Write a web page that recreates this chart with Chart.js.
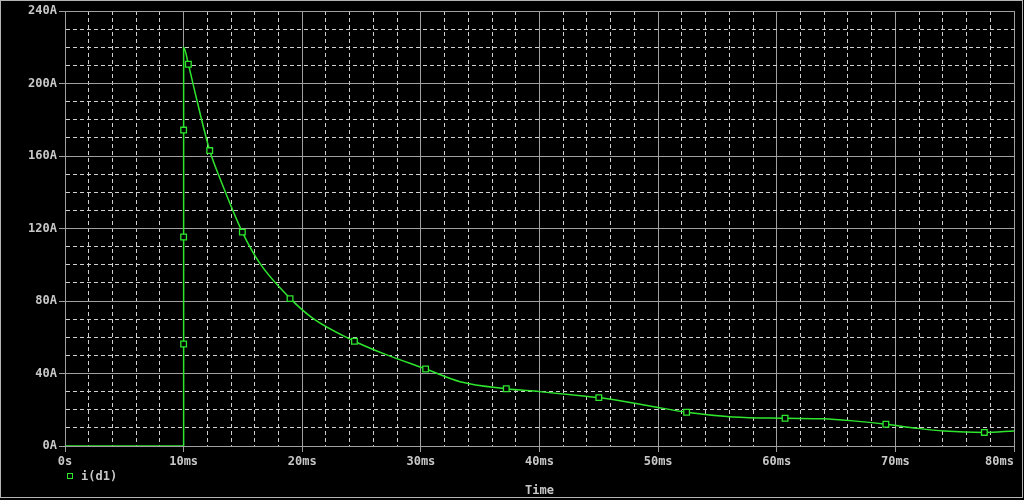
<!DOCTYPE html>
<html>
<head>
<meta charset="UTF-8">
<title>i(d1) transient</title>
<script src="https://cdn.jsdelivr.net/npm/chart.js"></script>
<style>
  html, body { margin: 0; padding: 0; background: #000; }
  #wrap { position: relative; width: 1024px; height: 500px; overflow: hidden; }
  #frame { position: absolute; left: 0; top: 0; width: 1021px; height: 496px; border: 1px solid #b4b4b4; pointer-events: none; }
  #legend { position: absolute; left: 67px; top: 469px; font: bold 12px "DejaVu Sans Mono", monospace; color: #c8c8c8; }
  #legend .box { display: inline-block; width: 4px; height: 4px; border: 1px solid #2ee62e; margin-right: 8px; vertical-align: 1px; }
</style>
</head>
<body>
<div id="wrap">
  <canvas id="plot" width="1024" height="500"></canvas>
  <div id="legend"><span class="box"></span><span id="legendText"></span></div>
  <div id="frame"></div>
</div>

<script>
    // trace i(d1), time in ms, current in A
    const seriesName = 'i(d1)';
    const timeMs  = [0, 10, 10, 10.4, 11, 12.2, 13.1, 14.95, 16.4, 19.0, 20.9, 24.4, 26.8, 30.4, 33.3, 37.2, 40.0, 43.7, 45.0, 49.3, 52.4, 56.3, 60.7, 63.9, 66.2, 69.2, 71.8, 74.1, 77.5, 80];
    const current = [0, 0, 220, 210.6, 194, 163, 147, 118, 101, 81.3, 70.4, 57.8, 51.1, 42.5, 35.5, 31.6, 30.0, 27.6, 26.7, 22.1, 18.6, 16.0, 15.3, 15.0, 14.0, 12.0, 9.8, 8.3, 7.5, 8.3];

    // marker symbols along the trace
    const markerTime    = [10, 10, 10, 10.4, 12.2, 14.95, 18.97, 24.4, 30.4, 37.2, 45.0, 52.4, 60.7, 69.2, 77.5];
    const markerCurrent = [56.3, 115.3, 174.3, 210.6, 163, 118, 81.3, 57.8, 42.5, 31.6, 26.7, 18.6, 15.3, 12.0, 7.5];

    const xTickLabels = ['0s', '10ms', '20ms', '30ms', '40ms', '50ms', '60ms', '70ms', '80ms'];
    const yTickLabels = ['0A', '40A', '80A', '120A', '160A', '200A', '240A'];

    const green = '#2ee62e';
    const majorGrid = '#a0a0a0';
    const minorGrid = '#cfcfcf';
    const labelColor = '#c8c8c8';
    const monoFont = { family: 'DejaVu Sans Mono', size: 12, weight: 'bold' };

    document.getElementById('legendText').textContent = seriesName;

    const curve = timeMs.map((t, i) => ({ x: t, y: current[i] }));
    const marks = markerTime.map((t, i) => ({ x: t, y: markerCurrent[i] }));

    function gridFor(majorStep) {
        const isMajor = ctx => ctx.tick && ctx.tick.value % majorStep === 0;
        return {
            grid: {
                color: ctx => isMajor(ctx) ? majorGrid : minorGrid,
                lineWidth: 1,
                tickLength: 6,
                tickColor: ctx => isMajor(ctx) ? majorGrid : 'rgba(0,0,0,0)'
            },
            border: {
                color: majorGrid,
                dash: ctx => (ctx.tick && !isMajor(ctx)) ? [4, 3] : []
            }
        };
    }

    const xGrid = gridFor(10);
    const yGrid = gridFor(40);

    new Chart(document.getElementById('plot'), {
        type: 'scatter',
        data: {
            datasets: [
                {
                    label: seriesName + ' markers',
                    data: marks,
                    showLine: false,
                    pointStyle: 'rect',
                    pointRadius: 4,
                    pointBorderWidth: 1.3,
                    pointBorderColor: green,
                    pointBackgroundColor: '#000'
                },
                {
                    label: seriesName,
                    data: curve,
                    showLine: true,
                    borderColor: green,
                    borderWidth: 1.5,
                    pointRadius: 0,
                    cubicInterpolationMode: 'monotone'
                }
            ]
        },
        options: {
            responsive: false,
            animation: false,
            layout: { padding: { left: 0, top: 11, right: 10, bottom: 0 } },
            plugins: { legend: { display: false }, tooltip: { enabled: false } },
            scales: {
                x: {
                    type: 'linear',
                    min: 0, max: 80,
                    grid: xGrid.grid,
                    border: xGrid.border,
                    ticks: {
                        stepSize: 2,
                        maxTicksLimit: 100,
                        autoSkip: false,
                        maxRotation: 0,
                        padding: 3,
                        color: labelColor,
                        font: monoFont,
                        callback: v => {
                            if (v % 10 !== 0) return '';
                            const s = xTickLabels[v / 10];
                            // last label sits left of the right edge
                            return v === 80 ? s + '    ' : s;
                        }
                    },
                    title: {
                        display: true,
                        text: 'Time',
                        color: labelColor,
                        font: monoFont,
                        padding: { top: 0, bottom: 2 }
                    },
                    afterFit: s => { s.height = 54; s.paddingLeft = 0; s.paddingRight = 0; }
                },
                y: {
                    min: 0, max: 240,
                    grid: yGrid.grid,
                    border: yGrid.border,
                    ticks: {
                        stepSize: 10,
                        maxTicksLimit: 100,
                        autoSkip: false,
                        padding: 2,
                        color: labelColor,
                        font: monoFont,
                        callback: v => v % 40 === 0 ? yTickLabels[v / 40] : ''
                    },
                    afterFit: s => { s.width = 65; s.paddingTop = 0; s.paddingBottom = 0; }
                }
            }
        }
    });
</script>
</body>
</html>
